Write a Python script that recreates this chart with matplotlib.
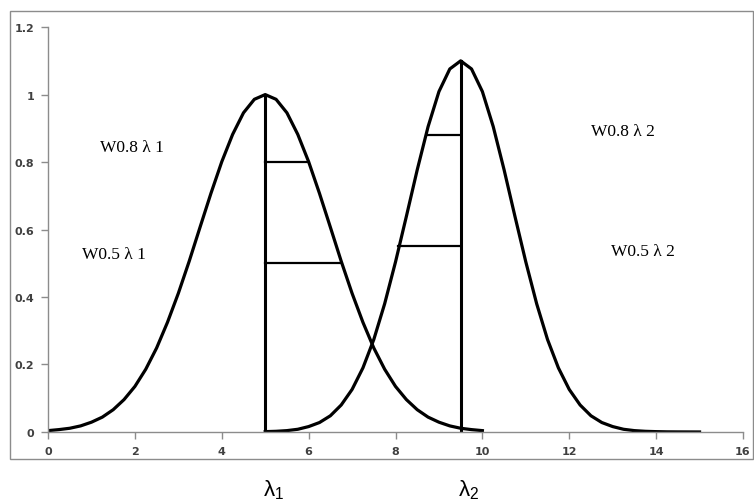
import matplotlib
matplotlib.use('Agg')
import matplotlib.pyplot as plt
from matplotlib.patches import Rectangle

# curve 1 (peak at lambda1 = 5)
x1 = [0, 0.25, 0.5, 0.75, 1, 1.25, 1.5, 1.75, 2, 2.25, 2.5, 2.75, 3, 3.25, 3.5, 3.75,
      4, 4.25, 4.5, 4.75, 5, 5.25, 5.5, 5.75, 6, 6.25, 6.5, 6.75, 7, 7.25, 7.5,
      7.75, 8, 8.25, 8.5, 8.75, 9, 9.25, 9.5, 9.75, 10]
y1 = [0.004, 0.007, 0.011, 0.018, 0.029, 0.044, 0.066, 0.096, 0.135, 0.186, 0.249,
      0.325, 0.411, 0.506, 0.607, 0.707, 0.801, 0.882, 0.946, 0.986, 1.0,
      0.986, 0.946, 0.882, 0.801, 0.707, 0.607, 0.506, 0.411, 0.325, 0.249,
      0.186, 0.135, 0.096, 0.066, 0.044, 0.029, 0.018, 0.011, 0.007, 0.004]

# curve 2 (peak at lambda2 = 9.5)
x2 = [5, 5.25, 5.5, 5.75, 6, 6.25, 6.5, 6.75, 7, 7.25, 7.5, 7.75, 8, 8.25, 8.5, 8.75,
      9, 9.25, 9.5, 9.75, 10, 10.25, 10.5, 10.75, 11, 11.25, 11.5, 11.75, 12, 12.25,
      12.5, 12.75, 13, 13.25, 13.5, 13.75, 14, 14.25, 14.5, 14.75, 15]
y2 = [0.001, 0.002, 0.004, 0.008, 0.016, 0.028, 0.048, 0.080, 0.126, 0.190, 0.274,
      0.380, 0.504, 0.639, 0.777, 0.905, 1.009, 1.076, 1.1, 1.076, 1.009, 0.905,
      0.777, 0.639, 0.504, 0.380, 0.274, 0.190, 0.126, 0.080, 0.048, 0.028, 0.016,
      0.008, 0.004, 0.002, 0.001, 0.0004, 0.0002, 0.0001, 0.0]

lam1, peak1 = 5.0, 1.0
lam2, peak2 = 9.5, 1.1
# width markers: (level, x at curve)
widths1 = [(0.8, 5.97), (0.5, 6.73)]
widths2 = [(0.88, 8.73), (0.55, 8.06)]

labels = [('W0.8 \u03bb 1', 1.2, 0.845), ('W0.5 \u03bb 1', 0.78, 0.527),
          ('W0.8 \u03bb 2', 12.49, 0.892), ('W0.5 \u03bb 2', 12.95, 0.536)]

xticks = [0, 2, 4, 6, 8, 10, 12, 14, 16]
yticks = [0, 0.2, 0.4, 0.6, 0.8, 1, 1.2]
yticklabels = ['0', '0.2', '0.4', '0.6', '0.8', '1', '1.2']

plt.rcParams['mathtext.fontset'] = 'custom'
plt.rcParams['mathtext.rm'] = 'Liberation Sans'
plt.rcParams['mathtext.it'] = 'Liberation Sans'

fig = plt.figure(figsize=(7.54, 5.02), dpi=100)
fig.patches.append(Rectangle((0.0133, 0.0837), 0.985, 0.892, transform=fig.transFigure,
                             fill=False, edgecolor='#8c8c8c', linewidth=1.0))
ax = fig.add_axes([0.0637, 0.1375, 0.9217, 0.8065])

ax.plot(x1, y1, color='black', lw=2.3, solid_joinstyle='round')
ax.plot(x2, y2, color='black', lw=2.3, solid_joinstyle='round')

ax.plot([lam1, lam1], [0, peak1], color='black', lw=2.2)
ax.plot([lam2, lam2], [0, peak2], color='black', lw=2.2)
for lev, xe in widths1:
    ax.plot([lam1, xe], [lev, lev], color='black', lw=1.6)
for lev, xe in widths2:
    ax.plot([xe, lam2], [lev, lev], color='black', lw=1.6)

for txt, tx, ty in labels:
    ax.text(tx, ty, txt, fontsize=12.5, family='Liberation Serif', va='center', ha='left')

ax.text(lam1 - 0.05, -0.17, r'$\lambda_1$', fontsize=16, ha='left', va='center', clip_on=False)
ax.text(lam2 - 0.05, -0.17, r'$\lambda_2$', fontsize=16, ha='left', va='center', clip_on=False)

ax.set_xlim(0, 16)
ax.set_ylim(0, 1.2)
ax.set_xticks(xticks)
ax.set_yticks(yticks)
ax.set_yticklabels(yticklabels)
for s in ['top', 'right']:
    ax.spines[s].set_visible(False)
for s in ['left', 'bottom']:
    ax.spines[s].set_color('#8c8c8c')
    ax.spines[s].set_linewidth(1.0)
ax.tick_params(direction='out', length=5, width=1, color='#8c8c8c',
               labelsize=8, labelcolor='#404040', pad=5)
for lbl in ax.get_xticklabels() + ax.get_yticklabels():
    lbl.set_fontweight('bold')

fig.savefig('out.png', dpi=100)
